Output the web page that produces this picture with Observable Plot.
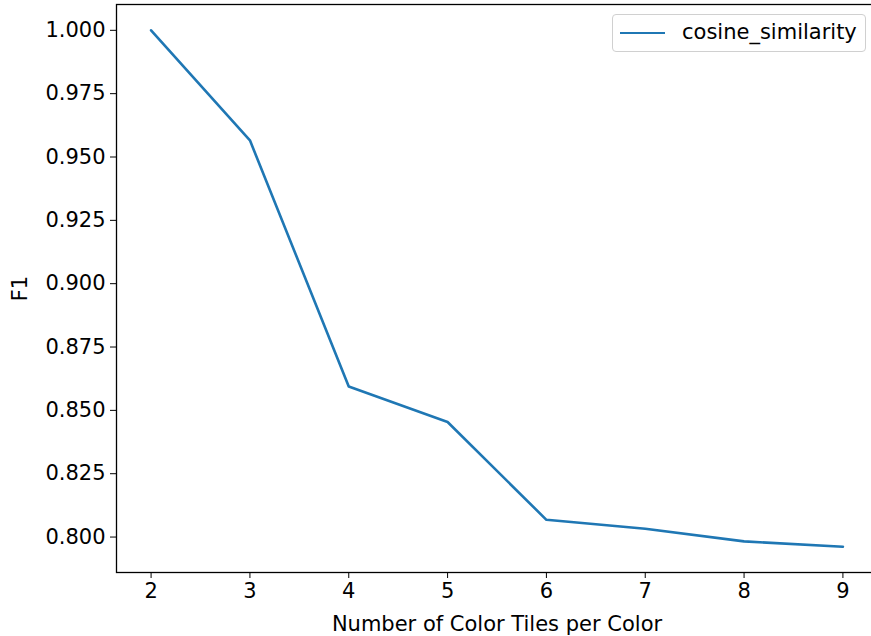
<!DOCTYPE html>
<html>
<head>
<meta charset="utf-8">
<script src="https://cdn.jsdelivr.net/npm/d3@7"></script>
<script src="https://cdn.jsdelivr.net/npm/@observablehq/plot@0.6"></script>
<style>
  html, body { margin: 0; padding: 0; background: #fff; overflow: hidden; }
  #wrap { position: relative; width: 871px; height: 636px; overflow: hidden; font-family: "DejaVu Sans", sans-serif; }
  #wrap svg { overflow: hidden; }
  #wrap svg text { font-family: "DejaVu Sans", sans-serif !important; font-size: 21px !important; fill: #000; }
  #legend { position: absolute; left: 612px; top: 14px; width: 254px; height: 38px; border: 1px solid #d0d0d0; border-radius: 4px; background: rgba(255,255,255,0.8); box-sizing: border-box; }
  #legend .swatch { position: absolute; left: 7px; top: 17px; width: 45px; height: 0; border-top: 2.6px solid #1f77b4; }
  #legend .label { position: absolute; left: 69px; top: 5px; font-size: 21px; line-height: 24px; color: #000; font-family: "DejaVu Sans", sans-serif; }
</style>
</head>
<body>
<div id="wrap"></div>
<script>
const tiles = [2, 3, 4, 5, 6, 7, 8, 9];
const f1 = [1.000, 0.9566, 0.8594, 0.8454, 0.8068, 0.8033, 0.7983, 0.7962];
const seriesName = "cosine_similarity";
const yTicks = [0.800, 0.825, 0.850, 0.875, 0.900, 0.925, 0.950, 0.975, 1.000];
const xTicks = [2, 3, 4, 5, 6, 7, 8, 9];

const data = tiles.map((t, i) => ({tiles: t, f1: f1[i]}));

const yMin = d3.min(f1), yMax = d3.max(f1);
const yPad = (yMax - yMin) * 0.05;
const xPad = (d3.max(tiles) - d3.min(tiles)) * 0.05;

const chart = Plot.plot({
  width: 871,
  height: 636,
  marginLeft: 116,
  marginRight: -6,
  marginTop: 4,
  marginBottom: 64,
  style: {fontFamily: "'DejaVu Sans', sans-serif", fontSize: "21px", color: "#000", background: "#fff", overflow: "hidden"},
  x: {domain: [d3.min(tiles) - xPad, d3.max(tiles) + xPad], ticks: xTicks, tickFormat: d3.format("d"), tickSize: 6, tickPadding: 5, label: "Number of Color Tiles per Color", labelAnchor: "center", labelOffset: 58, labelArrow: "none"},
  y: {domain: [yMin - yPad, yMax + yPad], ticks: yTicks, tickFormat: d3.format(".3f"), tickSize: 6, tickPadding: 5, label: "F1", labelAnchor: "center", labelOffset: 104, labelArrow: "none"},
  marks: [
    Plot.line(data, {x: "tiles", y: "f1", stroke: "#1f77b4", strokeWidth: 2.6}),
    Plot.frame({stroke: "#000", strokeWidth: 1.3})
  ]
});
document.getElementById("wrap").appendChild(chart);

const legend = document.createElement("div");
legend.id = "legend";
legend.innerHTML = `<div class="swatch"></div><div class="label">${seriesName}</div>`;
document.getElementById("wrap").appendChild(legend);
</script>
</body>
</html>
